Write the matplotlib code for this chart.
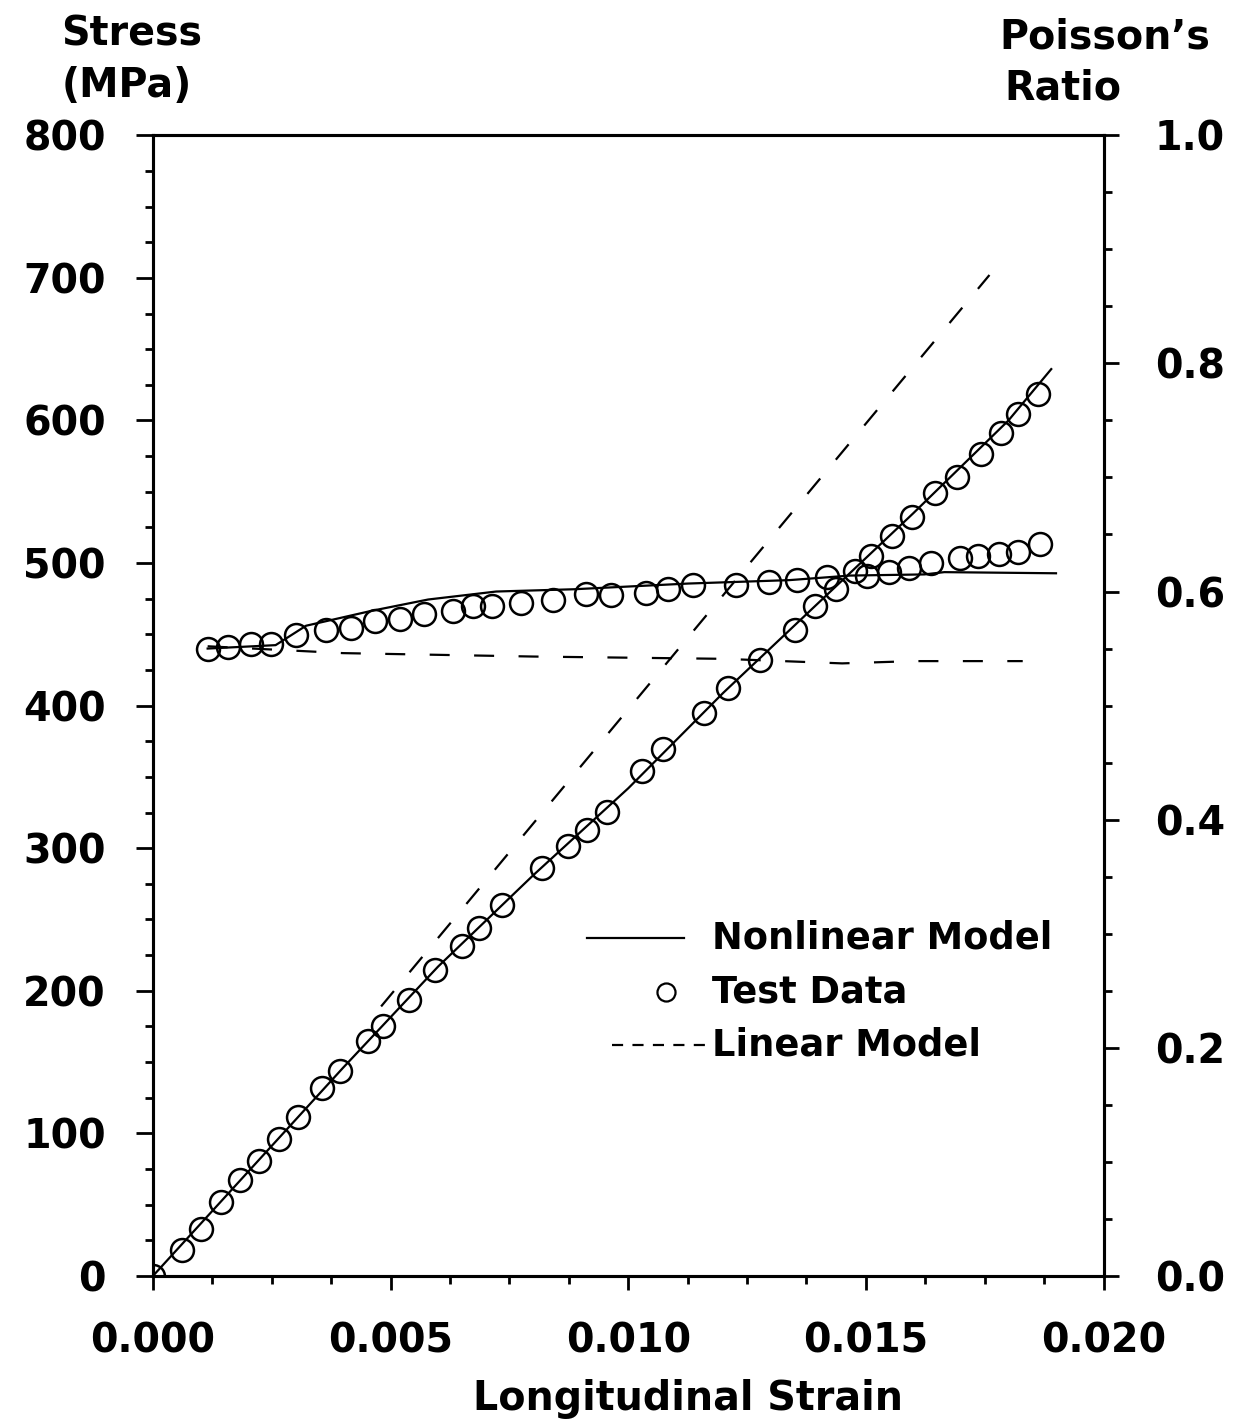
import matplotlib
matplotlib.use('Agg')
import matplotlib.pyplot as plt
from matplotlib.ticker import MultipleLocator, FormatStrFormatter

# test data, stress vs longitudinal strain
strain_test = [0.0, 0.000605, 0.001018, 0.001432, 0.001824, 0.002235, 0.002648,
               0.003061, 0.003561, 0.003929, 0.004515, 0.004840, 0.005382,
               0.005925, 0.006509, 0.006856, 0.007354, 0.008177, 0.008738,
               0.009127, 0.009560, 0.010299, 0.010733, 0.011598, 0.012096,
               0.012767, 0.013502, 0.013936, 0.014368, 0.014779, 0.015104,
               0.015558, 0.015971, 0.016448, 0.016922, 0.017420, 0.017833,
               0.018201, 0.018614]
stress_test = [0, 17.9, 33.1, 51.9, 67.1, 80.9, 96.1, 111.4, 132.1, 143.9,
               164.6, 175.0, 193.6, 214.4, 231.6, 244.1, 260.0, 286.2, 301.3,
               312.4, 325.5, 353.9, 369.8, 394.6, 412.6, 431.8, 453.2, 469.8,
               481.5, 494.6, 505.0, 518.8, 532.6, 549.2, 560.2, 576.8, 591.3,
               604.4, 618.2]

# test data, Poisson's ratio
strain_nu = [0.001149, 0.001575, 0.002066, 0.002492, 0.003006, 0.003646,
             0.004158, 0.004671, 0.005204, 0.005696, 0.006314, 0.006741,
             0.007125, 0.007743, 0.008425, 0.009109, 0.009641, 0.010365,
             0.010835, 0.011369, 0.012263, 0.012966, 0.013541, 0.014181,
             0.015033, 0.015481, 0.015909, 0.016379, 0.016977, 0.017360,
             0.017809, 0.018193, 0.018663]
nu_test = [0.550, 0.551, 0.554, 0.554, 0.562, 0.566, 0.568, 0.574, 0.576,
           0.580, 0.583, 0.587, 0.587, 0.590, 0.593, 0.598, 0.597, 0.599,
           0.602, 0.606, 0.606, 0.608, 0.610, 0.613, 0.614, 0.617, 0.621,
           0.625, 0.629, 0.631, 0.633, 0.635, 0.642]

# nonlinear model
strain_nl = [0.0, 0.002, 0.004, 0.006, 0.008, 0.010, 0.012, 0.014, 0.016,
             0.018, 0.0189]
stress_nl = [0, 73, 146, 217, 281, 342, 409, 472, 535, 600, 636]
strain_nl_nu = [0.00115, 0.00258, 0.00322, 0.00459, 0.00579, 0.00722,
                0.00886, 0.01126, 0.01339, 0.01467, 0.01623, 0.01665, 0.0190]
nu_nl = [0.550, 0.553, 0.570, 0.583, 0.593, 0.600, 0.602, 0.607, 0.610,
         0.614, 0.615, 0.617, 0.616]

# linear model
strain_lin = [0.0048, 0.0176]
stress_lin = [189, 702]
strain_lin_nu = [0.00115, 0.004, 0.008, 0.012, 0.0145, 0.016, 0.0183]
nu_lin = [0.552, 0.546, 0.543, 0.541, 0.537, 0.539, 0.539]

plt.rcParams['font.family'] = ['DejaVu Sans']
plt.rcParams['font.weight'] = 'bold'

fs = 28.5

fig = plt.figure(figsize=(12.54, 14.24), dpi=100)
ax = fig.add_axes([0.122, 0.104, 0.758, 0.801])
ax2 = ax.twinx()

lw = 1.6
ax.plot(strain_nl, stress_nl, color='black', lw=lw)
ax.plot(strain_lin, stress_lin, color='black', lw=lw, dashes=(9, 11))
ax.plot(strain_test, stress_test, 'o', mfc='none', mec='black', ms=16.5, mew=1.8)

ax2.plot(strain_nl_nu, nu_nl, color='black', lw=lw)
ax2.plot(strain_lin_nu, nu_lin, color='black', lw=lw, dashes=(9, 11))
ax2.plot(strain_nu, nu_test, 'o', mfc='none', mec='black', ms=16.5, mew=1.8)

ax.set_xlim(0, 0.02)
ax.set_ylim(0, 800)
ax2.set_ylim(0, 1.0)

ax.xaxis.set_major_locator(MultipleLocator(0.005))
ax.xaxis.set_minor_locator(MultipleLocator(0.00125))
ax.xaxis.set_major_formatter(FormatStrFormatter('%.3f'))
ax.yaxis.set_major_locator(MultipleLocator(100))
ax.yaxis.set_minor_locator(MultipleLocator(25))
ax2.yaxis.set_major_locator(MultipleLocator(0.2))
ax2.yaxis.set_minor_locator(MultipleLocator(0.05))
ax2.yaxis.set_major_formatter(FormatStrFormatter('%.1f'))

ax.tick_params(axis='x', which='major', direction='out', length=10, width=2,
               pad=23, labelsize=fs)
ax.tick_params(axis='x', which='minor', direction='out', length=6, width=2)
ax.tick_params(axis='y', which='major', direction='out', length=12, width=2,
               pad=22, labelsize=fs)
ax.tick_params(axis='y', which='minor', direction='out', length=6, width=2)
ax2.tick_params(axis='y', which='major', direction='out', length=11, width=2,
                pad=26, labelsize=fs)
ax2.tick_params(axis='y', which='minor', direction='out', length=6, width=2)
ax.tick_params(top=False, right=False, which='both')

for a in (ax, ax2):
    for sp in a.spines.values():
        sp.set_linewidth(2.2)

# legend drawn by hand
fs_leg = 26.5
ax.plot([0.457, 0.559], [0.296, 0.296], transform=ax.transAxes, color='black', lw=lw)
ax.text(0.588, 0.296, 'Nonlinear Model', transform=ax.transAxes, va='center',
        fontsize=fs_leg)
ax.plot([0.540], [0.249], 'o', transform=ax.transAxes, mfc='none', mec='black',
        ms=13, mew=1.6)
ax.text(0.588, 0.249, 'Test Data', transform=ax.transAxes, va='center',
        fontsize=fs_leg)
ax.plot([0.483, 0.582], [0.202, 0.202], transform=ax.transAxes, color='black',
        lw=lw, dashes=(5, 4.2))
ax.text(0.588, 0.202, 'Linear Model', transform=ax.transAxes, va='center',
        fontsize=fs_leg)

fig.text(0.049, 0.968, 'Stress', fontsize=fs, va='baseline')
fig.text(0.049, 0.932, '(MPa)', fontsize=fs, va='baseline')
fig.text(0.797, 0.966, "Poisson\u2019s", fontsize=fs, va='baseline')
fig.text(0.801, 0.930, 'Ratio', fontsize=fs, va='baseline')
fig.text(0.549, 0.010, 'Longitudinal Strain', fontsize=fs, va='baseline',
         ha='center')

fig.savefig('out.png', dpi=100)
